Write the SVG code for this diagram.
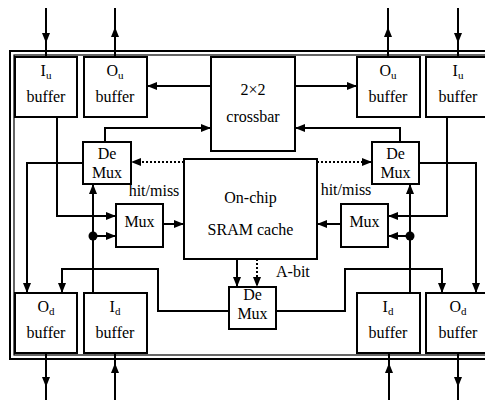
<svg xmlns="http://www.w3.org/2000/svg" width="485" height="400" viewBox="0 0 485 400" font-family="'Liberation Serif', 'Times New Roman', serif">
<defs>
<marker id="ah" viewBox="0 0 10 8" refX="10" refY="4" markerWidth="10" markerHeight="8" markerUnits="userSpaceOnUse" orient="auto">
<path d="M0,0 L10,4 L0,8 z" fill="#000"/>
</marker>
<style>
.box{fill:#fff;stroke:#000;stroke-width:2}
.ln{fill:none;stroke:#000;stroke-width:2}
.arr{fill:none;stroke:#000;stroke-width:2;marker-end:url(#ah)}
.dot{fill:none;stroke:#000;stroke-width:2;stroke-dasharray:2,2;marker-end:url(#ah)}
text{font-family:'Liberation Serif','Times New Roman',serif;font-size:16px;fill:#000;text-anchor:middle}
.sub{font-size:11px}
.lbl{text-anchor:start}
</style>
</defs>
<rect width="485" height="400" fill="#fff"/>
<g id="frame">
<rect x="10" y="51" width="490" height="308" fill="none" stroke="#000" stroke-width="2"/>
<rect x="14" y="55" width="486" height="300" fill="none" stroke="#000" stroke-width="1.2"/>
</g>
<g id="connectors">
<path class="arr" d="M46,8 V43"/><path class="ln" d="M46,43 V57"/>
<path class="arr" d="M115,57 V27"/><path class="ln" d="M115,27 V8"/>
<path class="arr" d="M388,57 V27"/><path class="ln" d="M388,27 V8"/>
<path class="arr" d="M458,8 V43"/><path class="ln" d="M458,43 V57"/>
<path class="arr" d="M46,353 V387"/><path class="ln" d="M46,387 V400"/>
<path class="arr" d="M115,400 V363"/><path class="ln" d="M115,363 V353"/>
<path class="arr" d="M389,400 V363"/><path class="ln" d="M389,363 V353"/>
<path class="arr" d="M458,353 V387"/><path class="ln" d="M458,387 V400"/>
<path class="arr" d="M211,86 H147"/>
<path class="arr" d="M295,86 H357"/>
<path class="arr" d="M105,142 V128 H211"/>
<path class="arr" d="M400,142 V128 H295"/>
<path class="dot" d="M184,162 H131"/>
<path class="dot" d="M317,162 H372"/>
<path class="arr" d="M83,163 H27 V293"/>
<path class="arr" d="M419,163 H476 V293"/>
<path class="arr" d="M57,117 V216 H116"/>
<path class="arr" d="M447,117 V216 H388"/>
<path class="arr" d="M93,293 V184"/>
<path class="arr" d="M93,236 H116"/>
<path class="arr" d="M410,293 V184"/>
<path class="arr" d="M410,236 H388"/>
<circle cx="93" cy="236" r="4.5" fill="#000"/>
<circle cx="410" cy="236" r="4.5" fill="#000"/>
<path class="arr" d="M163,224 H184"/>
<path class="arr" d="M341,224 H317"/>
<path class="arr" d="M237,259 V287"/>
<path class="dot" d="M257,259 V287"/>
<path class="arr" d="M229,311 H158 V269 H62 V293"/>
<path class="arr" d="M276,311 H345 V269 H442 V293"/>
<text x="154" y="196">hit/miss</text>
<text x="346" y="195">hit/miss</text>
<text class="lbl" x="276" y="277">A-bit</text>
</g>
<g id="iu-left"><rect class="box" x="15" y="57" width="62" height="60"/><text x="46" y="76">I<tspan class="sub" dy="3">u</tspan></text><text x="46" y="102">buffer</text></g>
<g id="ou-left"><rect class="box" x="84" y="57" width="63" height="60"/><text x="115" y="76">O<tspan class="sub" dy="3">u</tspan></text><text x="115" y="102">buffer</text></g>
<g id="ou-right"><rect class="box" x="357" y="57" width="63" height="60"/><text x="388" y="76">O<tspan class="sub" dy="3">u</tspan></text><text x="388" y="102">buffer</text></g>
<g id="iu-right"><rect class="box" x="426" y="57" width="64" height="60"/><text x="458" y="76">I<tspan class="sub" dy="3">u</tspan></text><text x="458" y="102">buffer</text></g>
<g id="crossbar"><rect class="box" x="211" y="57" width="84" height="94"/><text x="253" y="95">2×2</text><text x="253" y="122">crossbar</text></g>
<g id="demux-left"><rect class="box" x="83" y="142" width="48" height="42"/><text x="107" y="159">De</text><text x="107" y="178">Mux</text></g>
<g id="demux-right"><rect class="box" x="372" y="142" width="47" height="42"/><text x="395.5" y="159">De</text><text x="395.5" y="178">Mux</text></g>
<g id="cache"><rect class="box" x="184" y="159" width="133" height="100"/><text x="250.5" y="203">On-chip</text><text x="250.5" y="235">SRAM cache</text></g>
<g id="mux-left"><rect class="box" x="116" y="204" width="47" height="43"/><text x="139.5" y="227">Mux</text></g>
<g id="mux-right"><rect class="box" x="341" y="204" width="47" height="43"/><text x="364.5" y="227">Mux</text></g>
<g id="demux-bottom"><rect class="box" x="229" y="287" width="47" height="42"/><text x="252.5" y="300">De</text><text x="252.5" y="319">Mux</text></g>
<g id="od-left"><rect class="box" x="15" y="293" width="62" height="60"/><text x="46" y="312">O<tspan class="sub" dy="3">d</tspan></text><text x="46" y="338">buffer</text></g>
<g id="id-left"><rect class="box" x="84" y="293" width="63" height="60"/><text x="115" y="312">I<tspan class="sub" dy="3">d</tspan></text><text x="115" y="338">buffer</text></g>
<g id="id-right"><rect class="box" x="357" y="293" width="63" height="60"/><text x="388" y="312">I<tspan class="sub" dy="3">d</tspan></text><text x="388" y="338">buffer</text></g>
<g id="od-right"><rect class="box" x="426" y="293" width="64" height="60"/><text x="458" y="312">O<tspan class="sub" dy="3">d</tspan></text><text x="458" y="338">buffer</text></g>
</svg>
